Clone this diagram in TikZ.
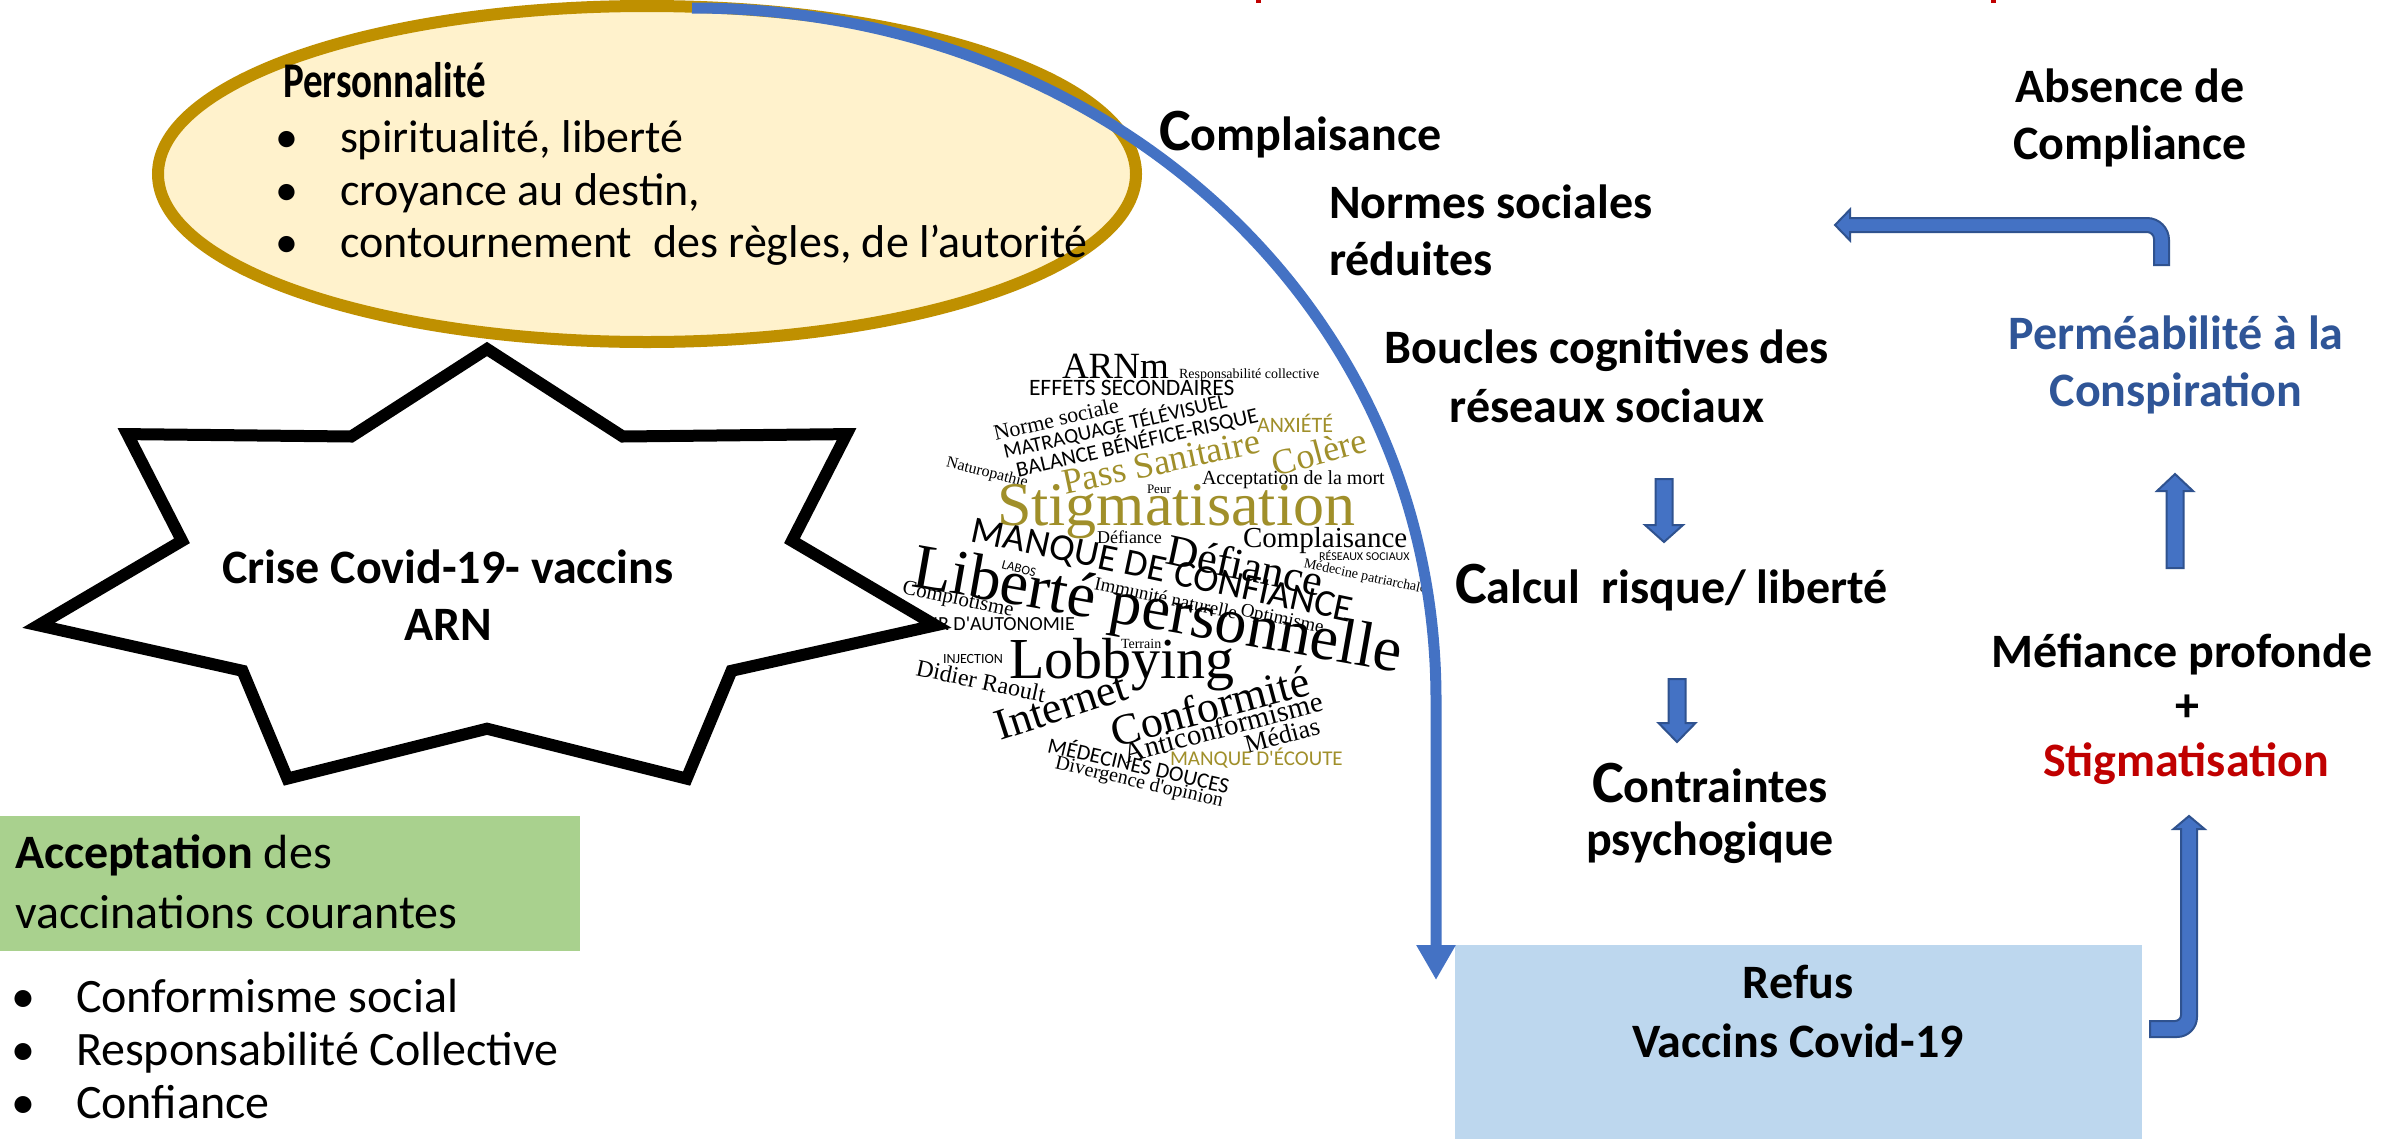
\documentclass[tikz,border=0pt]{standalone}
\usepackage{fontspec}
\setmainfont{Carlito}
\newfontfamily\cloudserif{Liberation Serif}
\newfontfamily\cloudsans{Carlito}
\usetikzlibrary{arrows.meta,shapes.geometric}
\definecolor{gold}{HTML}{BF9000}
\definecolor{paleyellow}{HTML}{FFF2CC}
\definecolor{arrowblue}{HTML}{4472C4}
\definecolor{arrowedge}{HTML}{2F528F}
\definecolor{refusblue}{HTML}{BDD7EE}
\definecolor{accgreen}{HTML}{A9D18E}
\definecolor{darkred}{HTML}{C00000}
\definecolor{textblue}{HTML}{2F5597}
\definecolor{olive}{HTML}{A08F2A}
\newcommand\fsz[1]{\fontsize{#1pt}{#1pt}\selectfont}
\tikzset{
  every node/.style={inner sep=0pt, outer sep=0pt},
  lab/.style={font=\bfseries\fsz{48}, anchor=base},
  labw/.style={font=\bfseries\fsz{48}, anchor=base west},
  plain/.style={font=\fsz{#1}, anchor=base west},
  wser/.style={font=\cloudserif\fsz{#1}},
  wsan/.style={font=\cloudsans\fsz{#1}},
  blockarrow/.style={fill=arrowblue, draw=arrowedge, line width=2pt, line join=miter},
  bluecurve/.style={draw=arrowblue, line width=11pt, -{Triangle[width=37pt,length=35pt]}},
}
\begin{document}
\begin{tikzpicture}[x=1pt,y=-1pt]
\fill[white] (0,0) rectangle (2382,1138);
\useasboundingbox (0,0) rectangle (2382,1138);

% tiny red marks at the top edge
\fill[darkred] (1256,0) rectangle (1261,3);
\fill[darkred] (1991,0) rectangle (1996,3);

% Personnalite ellipse
\node[ellipse, draw=gold, fill=paleyellow, line width=12pt,
      minimum width=978pt, minimum height=336pt] (perso) at (647,174) {};
\node[font=\bfseries\fsz{50}, anchor=base west] (pers) at (283,97) {\scalebox{0.78}[1]{Personnalité}};
\node[plain=46] (pb1) at (275,152) {•};
\node[plain=46] (pt1) at (340,152) {spiritualité, liberté};
\node[plain=46] (pb2) at (275,205) {•};
\node[plain=46] (pt2) at (340,205) {croyance au destin,};
\node[plain=46] (pb3) at (275,257) {•};
\node[plain=46] (pt3) at (340,257) {contournement~ des règles, de l’autorité};

% word cloud
\node[wser=37, anchor=base west] (w1) at (1062,378) {ARNm};
\node[wser=14, anchor=base west] (w2) at (1179,378) {Responsabilité collective};
\node[wsan=23.5, anchor=base west] (w3) at (1029,395) {EFFETS SECONDAIRES};
\node[wser=22, rotate=13] (w4) at (1056,419) {Norme sociale};
\node[wsan=21, rotate=13] (w5) at (1115,426) {MATRAQUAGE TÉLÉVISUEL};
\node[wsan=22, rotate=13] (w6) at (1137,442) {BALANCE BÉNÉFICE-RISQUE};
\node[wsan=22, text=olive, anchor=base west] (w7) at (1257,432) {ANXIÉTÉ};
\node[wser=16, rotate=-14] (w8) at (987,473) {Naturopathie};
\node[wser=36, text=olive, rotate=12] (w9) at (1161,462) {Pass Sanitaire};
\node[wser=36, text=olive, rotate=15] (w10) at (1319,452) {Colère};
\node[wser=20, anchor=base west] (w11) at (1202,484) {Acceptation de la mort};
\node[wser=13, anchor=base west] (w12) at (1147,493) {Peur};
\node[wser=62, text=olive, anchor=base west] (w13) at (997,525) {Stigmatisation};
\node[wser=18, anchor=base west] (w14) at (1097,543) {Défiance};
\node[wser=29, anchor=base west] (w15) at (1243,547) {Complaisance};
\node[wser=44, rotate=-12] (w16) at (1245,565) {Défiance};
\node[wsan=38, rotate=-12] (w17) at (1162,572) {MANQUE DE CONFIANCE};
\node[wser=64, rotate=-10] (w18) at (1157,614) {Liberté personnelle};
\node[wsan=13, rotate=-15] (w19) at (1019,569) {LABOS};
\node[wser=21, rotate=-12] (w20) at (958,600) {Complotisme};
\node[wsan=12, anchor=base west] (w21) at (1319,560) {RÉSEAUX SOCIAUX};
\node[wser=14, rotate=-12] (w22) at (1365,577) {Médecine patriarchale};
\node[wsan=20, anchor=base west] (w23) at (902,630) {DÉSIR D'AUTONOMIE};
\node[wser=19, rotate=-12] (w24) at (1166,598) {Immunité naturelle};
\node[wser=19, rotate=-12] (w25) at (1282,620) {Optimisme};
\node[wser=14, anchor=base west] (w26) at (1121,648) {Terrain};
\node[wsan=14, anchor=base west] (w27) at (943,663) {INJECTION};
\node[wser=58, anchor=base west] (w28) at (1009,678) {Lobbying};
\node[wser=24, rotate=-12] (w29) at (981,681) {Didier Raoult};
\node[wser=44, rotate=18] (w30) at (1061,706) {Internet};
\node[wser=44, rotate=15] (w31) at (1210,706) {Conformité};
\node[wser=29, rotate=15] (w32) at (1223,727) {Anticonformisme};
\node[wser=26, rotate=15] (w33) at (1282,735) {Médias};
\node[wsan=21, text=olive, anchor=base west] (w34) at (1170,765) {MANQUE D'ÉCOUTE};
\node[wsan=22, rotate=-13] (w35) at (1139,764) {MÉDECINES DOUCES};
\node[wser=20, rotate=-13] (w36) at (1139,783) {Divergence d'opinion};

% seven-point star
\draw[fill=white, draw=black, line width=12pt, line join=miter]
  (487,349) -- (351.3,436.5) -- (127.4,434.1) -- (182.0,540.8) -- (38.5,625.3)
  -- (242.5,670.8) -- (287.4,778.6) -- (487,728.7) -- (686.6,778.6) -- (731.5,670.8)
  -- (935.5,625.3) -- (792.0,540.8) -- (846.6,434.1) -- (622.7,436.5) -- cycle;
\node[lab] (star1) at (448,583) {Crise Covid-19- vaccins};
\node[lab] (star2) at (448,640) {ARN};

% Acceptation box and list
\node[rectangle, fill=accgreen, anchor=north west, minimum width=580pt, minimum height=135pt] (accbox) at (0,816) {};
\node[plain=48] (acc1) at (15,868) {\textbf{Acceptation} des};
\node[plain=48] (acc2) at (15,928) {vaccinations courantes};
\node[plain=48] (lb1) at (12,1012) {•};
\node[plain=48] (lt1) at (76,1012) {Conformisme social};
\node[plain=48] (lb2) at (12,1065) {•};
\node[plain=48] (lt2) at (76,1065) {Responsabilité Collective};
\node[plain=48] (lb3) at (12,1118) {•};
\node[plain=48] (lt3) at (76,1118) {Confiance};

% Refus box
\node[rectangle, fill=refusblue, anchor=north west, minimum width=687pt, minimum height=200pt] (refus) at (1455,945) {};
\node[lab] (refus1) at (1798,998) {Refus};
\node[lab] (refus2) at (1798,1057) {Vaccins Covid-19};

% big blue curved arrow
\coordinate (curvestart) at (692,8);
\coordinate (curvetip) at (1436,980);
\draw[bluecurve] (curvestart) .. controls (1100,8) and (1436,300) .. (1436,700) -- (curvetip);

% middle column texts
\node[labw] (compl) at (1159,150) {{\fsz{60}C}omplaisance};
\node[labw] (normes1) at (1329,218) {Normes sociales};
\node[labw] (normes2) at (1329,275) {réduites};
\node[lab] (boucles1) at (1607,363) {Boucles cognitives des};
\node[lab] (boucles2) at (1607,422) {réseaux sociaux};
\node[labw] (calcul) at (1455,603) {{\fsz{60}C}alcul~ risque/ liberté};
\node[lab] (contr1) at (1710,802) {{\fsz{60}C}ontraintes};
\node[lab] (contr2) at (1710,855) {psychogique};

% right column texts
\node[lab] (abs1) at (2130,102) {Absence de};
\node[lab] (abs2) at (2130,159) {Compliance};
\node[lab, text=textblue] (perm1) at (2176,349) {Perméabilité à la};
\node[lab, text=textblue] (perm2) at (2176,406) {Conspiration};
\node[lab] (mef1) at (2182,667) {Méfiance profonde};
\node[lab] (mef2) at (2187,721) {+};
\node[lab, text=darkred] (mef3) at (2186,776) {Stigmatisation};

% block arrows
\filldraw[blockarrow] (1655.5,479) -- (1672.5,479) -- (1672.5,525) -- (1683,525) -- (1664,542)
  -- (1645,525) -- (1655.5,525) -- cycle;
\filldraw[blockarrow] (1668.5,679) -- (1685.5,679) -- (1685.5,723) -- (1695.5,723) -- (1677,742)
  -- (1658.5,723) -- (1668.5,723) -- cycle;
\filldraw[blockarrow] (2166.5,568) -- (2166.5,491) -- (2157,491) -- (2175,474) -- (2193,491)
  -- (2183.5,491) -- (2183.5,568) -- cycle;
% bent arrow from Refus box upward
\filldraw[blockarrow] (2150,1037) [rounded corners=20pt] -- (2197,1037) [sharp corners] -- (2197,829)
  -- (2204.5,829) -- (2189,816) -- (2173.5,829) -- (2181,829)
  [rounded corners=6pt] -- (2181,1021) [sharp corners] -- (2150,1021) -- cycle;
% bent arrow from Absence de Compliance to Normes sociales
\filldraw[blockarrow] (1835,225) -- (1850,209.5) -- (1850,218) [rounded corners=22pt] -- (2169,218)
  [sharp corners] -- (2169,265) -- (2154,265) [rounded corners=7pt] -- (2154,232) [sharp corners]
  -- (1850,232) -- (1850,240.5) -- cycle;
\end{tikzpicture}
\end{document}
